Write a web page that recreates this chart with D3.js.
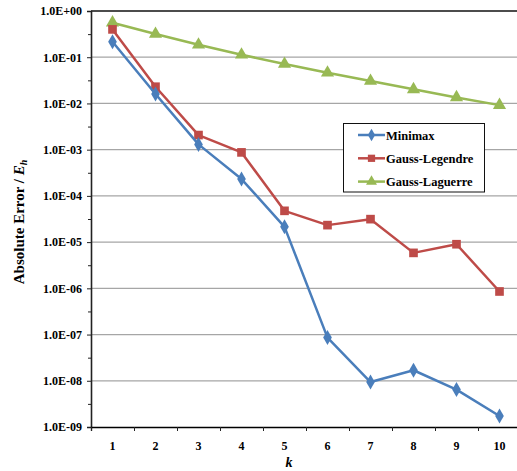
<!DOCTYPE html>
<html><head><meta charset="utf-8">
<script src="https://cdn.jsdelivr.net/npm/d3@7"></script>
<style>body{margin:0;background:#fff}svg{display:block}</style>
</head><body>
<svg id="c" width="517" height="471"></svg>
<script>
const categories = [1,2,3,4,5,6,7,8,9,10];
const minimax = [0.216, 0.0160, 0.00130, 2.31e-4, 2.14e-5, 8.6e-8, 9.4e-9, 1.69e-8, 6.45e-9, 1.73e-9];
const gaussLegendre = [0.40, 0.0230, 0.00207, 8.73e-4, 4.75e-5, 2.33e-5, 3.14e-5, 5.85e-6, 9.0e-6, 8.55e-7];
const gaussLaguerre = [0.558, 0.318, 0.186, 0.113, 0.0713, 0.0462, 0.0305, 0.0202, 0.0135, 0.0092];
const yTicks = [1, 1e-1, 1e-2, 1e-3, 1e-4, 1e-5, 1e-6, 1e-7, 1e-8, 1e-9];
const seriesNames = ["Minimax", "Gauss-Legendre", "Gauss-Laguerre"];
const seriesColors = ["#4a7ebb", "#be4b48", "#98b954"];

const svg = d3.select("#c");
const L = 91, R = 521, T = 11, B = 427;
const font = "'Liberation Serif','Times New Roman',serif";

const x = d3.scaleBand().domain(categories).range([L, R]);
const xb = d3.scaleLinear().domain([0, categories.length]).range([L, R]);
const y = d3.scaleLog().domain([1e-9, 1]).range([B, T]);

// gridlines
svg.append("g").selectAll("line").data(yTicks.slice(1, -1)).join("line")
  .attr("x1", L).attr("x2", R).attr("y1", d => y(d)).attr("y2", d => y(d))
  .attr("stroke", "#a6a6a6").attr("stroke-width", 1.3);
// top border
svg.append("line").attr("x1", L).attr("x2", R).attr("y1", T).attr("y2", T)
  .attr("stroke", "#111").attr("stroke-width", 1.3);

// left axis
const fmt = d => { const e = Math.round(Math.log10(d)); return "1.0E" + (e < 0 ? "-" : "+") + String(Math.abs(e)).padStart(2, "0"); };
const ya = svg.append("g").attr("transform", `translate(${L},0)`)
  .call(d3.axisLeft(y).tickValues(yTicks).tickFormat(fmt).tickSize(4).tickPadding(5));
ya.select(".domain").attr("stroke", "#222").attr("stroke-width", 1.6);
ya.selectAll(".tick line").attr("stroke", "#222");
ya.selectAll("text").attr("font-family", font).attr("font-weight", "bold").attr("font-size", 12).attr("fill", "#000");
// minor ticks
const minor = yTicks.slice(0, -1).map(d => d / Math.sqrt(10));
const ym = svg.append("g").attr("transform", `translate(${L},0)`)
  .call(d3.axisLeft(y).tickValues(minor).tickFormat("").tickSize(3));
ym.select(".domain").remove();
ym.selectAll(".tick line").attr("stroke", "#222");

// bottom axis
const xa = svg.append("g").attr("transform", `translate(0,${B})`)
  .call(d3.axisBottom(xb).tickValues(d3.range(0, categories.length + 1)).tickFormat("").tickSize(4));
xa.select(".domain").attr("stroke", "#000").attr("stroke-width", 1.3);
xa.selectAll(".tick line").attr("stroke", "#222");
const xl = svg.append("g").attr("transform", `translate(0,${B})`)
  .call(d3.axisBottom(x).tickSize(0).tickPadding(14));
xl.select(".domain").remove();
xl.selectAll("text").attr("font-family", font).attr("font-weight", "bold").attr("font-size", 12).attr("fill", "#000");

// axis titles
svg.append("text").attr("x", 289).attr("y", 467).attr("text-anchor", "middle")
  .attr("font-family", font).attr("font-weight", "bold").attr("font-style", "italic").attr("font-size", 14).text("k");
const yt = svg.append("text").attr("transform", "translate(24,222) rotate(-90)").attr("text-anchor", "middle")
  .attr("font-family", font).attr("font-weight", "bold").attr("font-size", 15);
yt.append("tspan").text("Absolute Error / ");
yt.append("tspan").attr("font-style", "italic").text("E");
yt.append("tspan").attr("font-style", "italic").attr("font-size", 10).attr("dy", 3).text("h");

// series
const data = [minimax, gaussLegendre, gaussLaguerre];
const cx = d => x(d) + x.bandwidth() / 2;
const line = d3.line().x((v, i) => cx(categories[i])).y(v => y(v));
const symbols = [d3.symbolDiamond, d3.symbolSquare, d3.symbolTriangle];
const symSizes = [65, 75, 75];
const plot = svg.append("g");
[2, 1, 0].forEach(s => {
  plot.append("path").attr("d", line(data[s])).attr("fill", "none")
    .attr("stroke", seriesColors[s]).attr("stroke-width", 2.5).attr("stroke-linejoin", "round");
  plot.append("g").selectAll("path").data(data[s]).join("path")
    .attr("transform", (v, i) => `translate(${cx(categories[i])},${y(v)})`)
    .attr("d", d3.symbol().type(symbols[s]).size(symSizes[s])).attr("fill", seriesColors[s]);
});

// legend
const lg = svg.append("g");
lg.append("rect").attr("x", 343.5).attr("y", 123.5).attr("width", 141).attr("height", 68.5)
  .attr("fill", "#fff").attr("stroke", "#111").attr("stroke-width", 1);
seriesNames.forEach((n, i) => {
  const yy = 135 + i * 23.3;
  lg.append("line").attr("x1", 358).attr("x2", 385).attr("y1", yy).attr("y2", yy)
    .attr("stroke", seriesColors[i]).attr("stroke-width", 2.5);
  lg.append("path").attr("transform", `translate(371.5,${yy})`)
    .attr("d", d3.symbol().type(symbols[i]).size(symSizes[i] * 0.7)).attr("fill", seriesColors[i]);
  lg.append("text").attr("x", 386).attr("y", yy + 4.5).attr("font-family", font).attr("font-weight", "bold")
    .attr("font-size", 12.5).text(n);
});
</script>
</body></html>
